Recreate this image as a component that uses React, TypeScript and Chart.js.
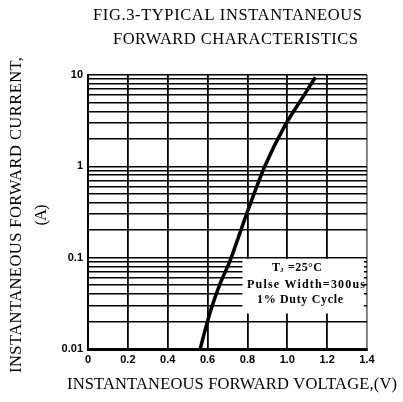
import React, { useEffect, useRef } from 'react';
import { Chart, registerables } from 'chart.js';

Chart.register(...registerables);

// ---- data ----
const voltage = [0.563, 0.584, 0.617, 0.66, 0.714, 0.797, 0.886, 0.99, 1.09, 1.141];
const current = [0.01, 0.015, 0.027, 0.05, 0.094, 0.306, 0.99, 2.84, 6.3, 9.46];

const xTickValues = [0, 0.2, 0.4, 0.6, 0.8, 1.0, 1.2, 1.4];
const xTickLabels = ['0', '0.2', '0.4', '0.6', '0.8', '1.0', '1.2', '1.4'];

const yGridValues = [
  0.01, 0.02, 0.03, 0.04, 0.05, 0.06, 0.07, 0.08, 0.09,
  0.1, 0.2, 0.3, 0.4, 0.5, 0.6, 0.7, 0.8, 0.9,
  1, 2, 3, 4, 5, 6, 7, 8, 9,
  10,
];
const yTickValues = [0.01, 0.1, 1, 10];
const yTickLabels = ['0.01', '0.1', '1', '10'];

const titleLines = ['FIG.3-TYPICAL INSTANTANEOUS', 'FORWARD CHARACTERISTICS'];
const xAxisTitle = 'INSTANTANEOUS FORWARD VOLTAGE,(V)';
const yAxisTitleLines = ['INSTANTANEOUS FORWARD CURRENT,', '(A)'];
const noteSymbol = 'T';
const noteSubscript = 'J';
const noteLines = ['=25°C', 'Pulse Width=300us', '1% Duty Cycle'];

const SERIF = '"Liberation Serif", "DejaVu Serif", serif';
const SANS = '"Liberation Sans", Arial, sans-serif';

function fitText(
  ctx: CanvasRenderingContext2D,
  text: string,
  cx: number,
  cy: number,
  width: number,
  font: string,
  rotate = false
) {
  ctx.save();
  ctx.font = font;
  (ctx as any).letterSpacing = '0px';
  const w = ctx.measureText(text).width;
  const n = text.length;
  const ls = n > 1 ? (width - w) / (n - 1) : 0;
  (ctx as any).letterSpacing = ls + 'px';
  ctx.translate(cx, cy);
  if (rotate) ctx.rotate(-Math.PI / 2);
  ctx.textAlign = 'left';
  ctx.textBaseline = 'middle';
  ctx.fillStyle = '#000';
  ctx.fillText(text, -width / 2, 0);
  ctx.restore();
}

const textPlugin = {
  id: 'figText',
  beforeDatasetsDraw(chart: any) {
    const { ctx, scales } = chart;
    const x = scales.x;
    const y = scales.y;
    // annotation box (white) in data coordinates
    const x1 = x.getPixelForValue(0.775);
    const x2 = x.getPixelForValue(1.385);
    const y1 = y.getPixelForValue(0.097);
    const y2 = y.getPixelForValue(0.0245);
    ctx.save();
    ctx.fillStyle = '#fff';
    ctx.fillRect(x1, y1, x2 - x1, y2 - y1);
    ctx.restore();
  },
  afterDraw(chart: any) {
    const { ctx } = chart;
    const big = `16.5px ${SERIF}`;
    // title
    fitText(ctx, titleLines[0], 227.5, 16, 269, big);
    fitText(ctx, titleLines[1], 235.5, 40, 245, big);
    // x axis title
    fitText(ctx, xAxisTitle, 232, 385, 330, big);
    // y axis title
    fitText(ctx, yAxisTitleLines[0], 17, 215, 316, big, true);
    fitText(ctx, yAxisTitleLines[1], 42, 215, 21, big, true);

    // annotation text
    const noteFont = `bold 12px ${SERIF}`;
    const cy1 = 267.5;
    ctx.save();
    ctx.fillStyle = '#000';
    ctx.textBaseline = 'middle';
    ctx.textAlign = 'left';
    ctx.font = noteFont;
    ctx.fillText(noteSymbol, 272, cy1);
    const tw = ctx.measureText(noteSymbol).width;
    ctx.font = `bold 7px ${SERIF}`;
    ctx.fillText(noteSubscript, 272 + tw, cy1 + 3);
    ctx.restore();
    fitText(ctx, noteLines[0], 305, cy1, 34, noteFont);
    fitText(ctx, noteLines[1], 306, 285, 118, noteFont);
    fitText(ctx, noteLines[2], 300, 299.5, 86, noteFont);
  },
};

export default function App() {
  const canvasRef = useRef<HTMLCanvasElement | null>(null);

  useEffect(() => {
    const canvas = canvasRef.current;
    if (!canvas) return;
    const points = voltage.map((v, i) => ({ x: v, y: current[i] }));
    const chart = new Chart(canvas, {
      type: 'line',
      data: {
        datasets: [
          {
            data: points,
            borderColor: '#000',
            borderWidth: 3.5,
            pointRadius: 0,
            tension: 0.25,
            fill: false,
          },
        ],
      },
      options: {
        responsive: false,
        animation: false,
        events: [],
        layout: { padding: { left: 0, top: 75, right: 36, bottom: 33 } },
        plugins: {
          legend: { display: false },
          title: { display: false },
          tooltip: { enabled: false },
        },
        scales: {
          x: {
            type: 'linear',
            min: 0,
            max: 1.4,
            afterBuildTicks: (scale: any) => {
              scale.ticks = xTickValues.map((v) => ({ value: v }));
            },
            afterFit: (scale: any) => {
              scale.height = 20;
            },
            ticks: {
              autoSkip: false,
              maxRotation: 0,
              padding: 4,
              color: '#000',
              font: { family: SANS, size: 11, weight: 'bold' },
              callback: (value: any) => {
                const i = xTickValues.findIndex((v) => Math.abs(v - Number(value)) < 1e-9);
                return i >= 0 ? xTickLabels[i] : '';
              },
            },
            grid: {
              drawTicks: false,
              color: (c: any) => (c.tick && c.tick.value === 1.4 ? '#777' : '#000'),
              lineWidth: 1.8,
            },
            border: { display: true, color: '#000', width: 3 },
          },
          y: {
            type: 'logarithmic',
            min: 0.01,
            max: 10,
            afterBuildTicks: (scale: any) => {
              scale.ticks = yGridValues.map((v) => ({ value: v }));
            },
            afterFit: (scale: any) => {
              scale.width = 88;
            },
            ticks: {
              autoSkip: false,
              padding: 5,
              color: '#000',
              font: { family: SANS, size: 11, weight: 'bold' },
              callback: (value: any) => {
                const i = yTickValues.findIndex((v) => Math.abs(v - Number(value)) < 1e-9);
                return i >= 0 ? yTickLabels[i] : '';
              },
            },
            grid: {
              drawTicks: false,
              color: '#000',
              lineWidth: 1.6,
            },
            border: { display: true, color: '#000', width: 2 },
          },
        },
      },
      plugins: [textPlugin],
    });
    return () => chart.destroy();
  }, []);

  return (
    <div style={{ position: 'absolute', left: 0, top: 0, width: 403, height: 402, background: '#fff' }}>
      <canvas ref={canvasRef} width={403} height={402} />
    </div>
  );
}
